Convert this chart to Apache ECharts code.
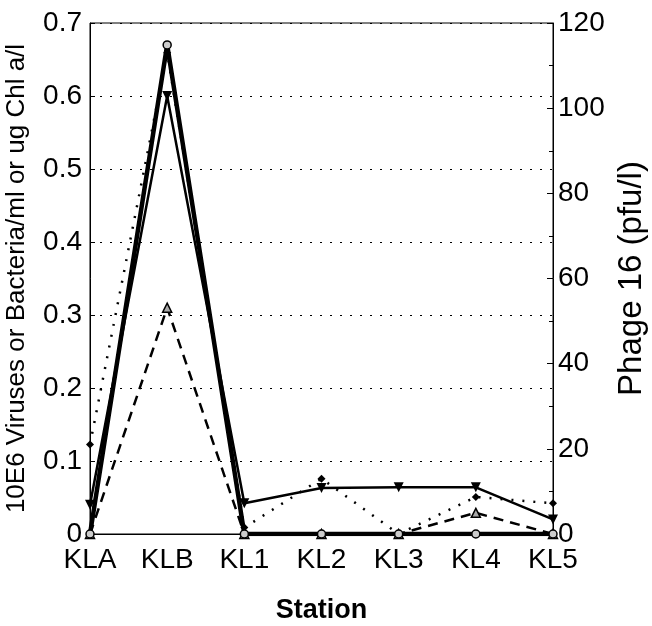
<!DOCTYPE html>
<html><head><meta charset="utf-8">
<script src="https://cdn.jsdelivr.net/npm/echarts@6/dist/echarts.min.js"></script>
<style>html,body{margin:0;padding:0;background:#fff}#c{width:652px;height:626px}</style>
</head><body><div id="c"></div>
<script>
const stations = ['KLA','KLB','KL1','KL2','KL3','KL4','KL5'];
const circleSeries = [0, 0.67, 0, 0, 0, 0, 0];
const downTriSeries = [0.04, 0.60, 0.042, 0.063, 0.064, 0.064, 0.02];
const upTriSeries = [0, 0.31, 0, 0, 0, 0.029, 0];
const phage16 = [21, 113, 1.5, 13, 0, 8.7, 7.2];
const leftTicks = [0, 0.1, 0.2, 0.3, 0.4, 0.5, 0.6, 0.7];
const rightTicks = [0, 20, 40, 60, 80, 100, 120];

const FONT = 'Liberation Sans, Arial, Helvetica, sans-serif';
const chart = echarts.init(document.getElementById('c'));
chart.setOption({
  animation: false,
  backgroundColor: '#fff',
  textStyle: {fontFamily: FONT, color: '#000'},
  grid: {left: 90, right: 99, top: 23, bottom: 92, show: true, borderColor: '#000', borderWidth: 1,
    backgroundColor: 'transparent', containLabel: false, outerBoundsMode: 'none'},
  xAxis: {
    type: 'category', data: stations, boundaryGap: false,
    axisLine: {lineStyle: {color: '#000', width: 1}},
    axisTick: {show: false},
    axisLabel: {color: '#000', fontSize: 28, fontFamily: FONT, margin: 12},
    name: 'Station', nameLocation: 'middle', nameGap: 63,
    nameTextStyle: {color: '#000', fontSize: 27, fontWeight: 'bold', fontFamily: FONT}
  },
  yAxis: [{
    type: 'value', min: leftTicks[0], max: leftTicks[leftTicks.length-1], interval: 0.1,
    axisLine: {show: true, lineStyle: {color: '#000', width: 1}},
    axisTick: {show: true, inside: true, length: 5, lineStyle: {color: '#000'}},
    axisLabel: {color: '#000', fontSize: 28, fontFamily: FONT, margin: 8,
      formatter: v => (Math.round(v*10)/10).toString()},
    splitLine: {show: true, lineStyle: {color: '#000', type: [2, 8], width: 1}},
    name: '10E6 Viruses or Bacteria/ml or ug Chl a/l', nameLocation: 'middle', nameGap: 60,
    nameTextStyle: {color: '#000', fontSize: 26, fontFamily: FONT}
  }, {
    type: 'value', min: rightTicks[0], max: rightTicks[rightTicks.length-1], interval: 20,
    position: 'right',
    axisLine: {show: true, lineStyle: {color: '#000', width: 1}},
    axisTick: {show: true, inside: true, length: 6, lineStyle: {color: '#000'}},
    minorTick: {show: true, splitNumber: 2, length: 4, lineStyle: {color: '#000'}},
    axisLabel: {color: '#000', fontSize: 28, fontFamily: FONT, margin: 5},
    splitLine: {show: false},
    name: 'Phage 16 (pfu/l)', nameLocation: 'middle', nameGap: 61, nameRotate: 90,
    nameTextStyle: {color: '#000', fontSize: 33, fontFamily: FONT}
  }],
  series: [{
    type: 'line', name: 'dotted', yAxisIndex: 1, data: phage16,
    lineStyle: {color: '#000', width: 2.5, type: [2, 9]},
    symbol: 'diamond', symbolSize: 8, itemStyle: {color: '#000'}
  }, {
    type: 'line', name: 'dashed', data: upTriSeries,
    lineStyle: {color: '#000', width: 2.5, type: [10, 7]},
    symbol: 'triangle', symbolSize: 9, itemStyle: {color: '#aaa', borderColor: '#000', borderWidth: 1.5}
  }, {
    type: 'line', name: 'solid', data: downTriSeries,
    lineStyle: {color: '#000', width: 2.5},
    symbol: 'triangle', symbolRotate: 180, symbolSize: 10, itemStyle: {color: '#000'}
  }, {
    type: 'line', name: 'thick', data: circleSeries,
    lineStyle: {color: '#000', width: 4.5},
    symbol: 'circle', symbolSize: 8, itemStyle: {color: '#ccc', borderColor: '#000', borderWidth: 1.5}
  }]
});
</script></body></html>
